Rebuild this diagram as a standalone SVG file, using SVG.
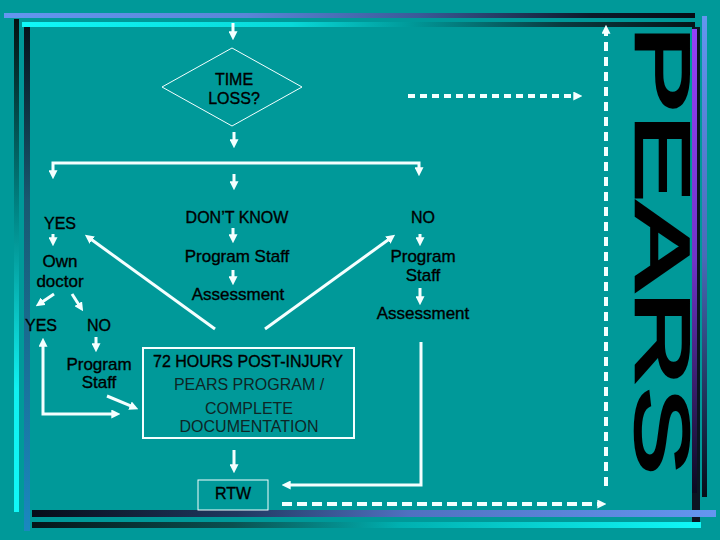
<svg xmlns="http://www.w3.org/2000/svg" width="720" height="540" viewBox="0 0 720 540">
<defs>
<style>
.t{font-family:"Liberation Sans",Arial,sans-serif;font-size:17px;fill:#000;text-anchor:middle;stroke:#000;stroke-width:0.35}
.c{font-size:16px}
.l{fill:#0e2626;stroke:none}
.ln{fill:none;stroke:#f4ffff;stroke-width:3}
.ds{fill:none;stroke:#f4ffff;stroke-width:4}
.box{fill:none;stroke:#f4ffff}
</style>
<marker id="ah" viewBox="0 0 10 10" refX="3" refY="5" markerWidth="9" markerHeight="9" markerUnits="userSpaceOnUse" orient="auto-start-reverse"><path d="M0,0 L10,5 L0,10 z" fill="#f4ffff"/></marker>
<linearGradient id="gTop1" x1="0" y1="0" x2="1" y2="0"><stop offset="0" stop-color="#6496f0"/><stop offset="0.35" stop-color="#5a86d8"/><stop offset="0.6" stop-color="#3a5a98"/><stop offset="0.85" stop-color="#0c1a2a"/><stop offset="1" stop-color="#060c14"/></linearGradient>
<linearGradient id="gTop2" x1="0" y1="0" x2="1" y2="0"><stop offset="0" stop-color="#10f8f8"/><stop offset="0.4" stop-color="#08d8d8"/><stop offset="0.58" stop-color="#009898"/><stop offset="0.8" stop-color="#0a3a40"/><stop offset="1" stop-color="#061418"/></linearGradient>
<linearGradient id="gBot1" x1="0" y1="0" x2="1" y2="0"><stop offset="0" stop-color="#060c18"/><stop offset="0.3" stop-color="#203860"/><stop offset="0.55" stop-color="#5070c0"/><stop offset="1" stop-color="#6496f0"/></linearGradient>
<linearGradient id="gBot2" x1="0" y1="0" x2="1" y2="0"><stop offset="0" stop-color="#061418"/><stop offset="0.3" stop-color="#0a5050"/><stop offset="0.55" stop-color="#00b0b0"/><stop offset="1" stop-color="#10f8f8"/></linearGradient>
<linearGradient id="gL1" x1="0" y1="0" x2="0" y2="1"><stop offset="0" stop-color="#061010"/><stop offset="0.4" stop-color="#008888"/><stop offset="0.75" stop-color="#10f0f0"/><stop offset="1" stop-color="#10f8f8"/></linearGradient>
<linearGradient id="gL2" x1="0" y1="0" x2="0" y2="1"><stop offset="0" stop-color="#061018"/><stop offset="0.35" stop-color="#185870"/><stop offset="1" stop-color="#1a88c0"/></linearGradient>
<linearGradient id="gR1" x1="0" y1="0" x2="0" y2="1"><stop offset="0" stop-color="#9440f8"/><stop offset="0.5" stop-color="#7034c8"/><stop offset="0.85" stop-color="#281850"/><stop offset="1" stop-color="#0a0a20"/></linearGradient>
<linearGradient id="gR2" x1="0" y1="0" x2="0" y2="1"><stop offset="0" stop-color="#6496f0"/><stop offset="0.5" stop-color="#4a6ab8"/><stop offset="0.85" stop-color="#182848"/><stop offset="1" stop-color="#060c18"/></linearGradient>
</defs>
<rect width="720" height="540" fill="#009999"/>
<g id="frame">
<rect x="14" y="19" width="5" height="493" fill="url(#gL1)"/>
<rect x="24" y="22" width="6" height="509" fill="url(#gL2)"/>
<rect x="4" y="13" width="691" height="5" fill="url(#gTop1)"/>
<rect x="22" y="22" width="673" height="5" fill="url(#gTop2)"/>
<rect x="692" y="27" width="8" height="496" fill="#0c1422"/>
<rect x="692" y="29" width="5" height="464" fill="url(#gR1)"/>
<rect x="702" y="16" width="5" height="481" fill="url(#gR2)"/>
<rect x="32" y="510" width="684" height="7" fill="url(#gBot1)"/>
<rect x="32" y="522" width="669" height="6" fill="url(#gBot2)"/>
</g>
<g id="pears"><text class="t" style="text-anchor:start;font-size:76px;stroke-width:2.6" transform="translate(636,0) rotate(90)" x="25" y="0" textLength="450" lengthAdjust="spacingAndGlyphs">PEARS</text></g>
<g id="connectors">
<line class="ln" x1="233" y1="23" x2="233" y2="34" marker-end="url(#ah)"/>
<line class="ln" x1="234" y1="132" x2="234" y2="142" marker-end="url(#ah)"/>
<path class="ln" d="M53,173 L53,163 L419,163 L419,170" marker-start="url(#ah)" marker-end="url(#ah)"/>
<line class="ln" x1="234" y1="174" x2="234" y2="184" marker-end="url(#ah)"/>
<line class="ln" x1="233" y1="228" x2="233" y2="237" marker-end="url(#ah)"/>
<line class="ln" x1="233" y1="270" x2="233" y2="279" marker-end="url(#ah)"/>
<line class="ln" x1="53" y1="234" x2="53" y2="240" marker-end="url(#ah)"/>
<line class="ln" x1="54" y1="294" x2="41" y2="302.7" marker-end="url(#ah)"/>
<line class="ln" x1="72" y1="294" x2="79.7" y2="306" marker-end="url(#ah)"/>
<line class="ln" x1="96" y1="337" x2="96" y2="346" marker-end="url(#ah)"/>
<line class="ln" x1="107" y1="396" x2="132.5" y2="406.7" marker-end="url(#ah)"/>
<path class="ln" d="M114,414 L43,414 L43,344" marker-start="url(#ah)" marker-end="url(#ah)"/>
<line class="ln" x1="215" y1="329" x2="90" y2="238.5" marker-end="url(#ah)"/>
<line class="ln" x1="265" y1="329" x2="390" y2="238.5" marker-end="url(#ah)"/>
<line class="ln" x1="420" y1="234" x2="420" y2="240" marker-end="url(#ah)"/>
<line class="ln" x1="420" y1="288" x2="420" y2="299" marker-end="url(#ah)"/>
<line class="ln" x1="234" y1="450" x2="234" y2="467" marker-end="url(#ah)"/>
<path class="ln" d="M421,342 L421,485 L288,485" marker-end="url(#ah)"/>
<path class="ds" d="M408,96 L576,96" stroke-dasharray="7 5" marker-end="url(#ah)"/>
<path class="ds" d="M282,504 L600,504" stroke-dasharray="10 5" marker-end="url(#ah)"/>
<path class="ds" d="M606,486 L606,31" stroke-dasharray="9 6" marker-end="url(#ah)"/>
</g>
<g id="decision"><polygon points="232,48 302,87 232,126 162,87" fill="none" stroke="#f4ffff" stroke-width="1"/><text class="t c" x="234" y="85">TIME</text><text class="t c" x="234" y="104">LOSS?</text></g>
<g id="yes-top"><text class="t c" x="60" y="229">YES</text></g>
<g id="dontknow"><text class="t c" x="237" y="223">DON’T KNOW</text></g>
<g id="no-top"><text class="t c" x="423" y="223">NO</text></g>
<g id="staff-mid"><text class="t" x="237" y="262">Program Staff</text></g>
<g id="assess-mid"><text class="t" x="238" y="300">Assessment</text></g>
<g id="own-doctor"><text class="t" x="60" y="267">Own</text><text class="t" x="60" y="287">doctor</text></g>
<g id="yes-low"><text class="t c" x="41" y="331">YES</text></g>
<g id="no-low"><text class="t c" x="99" y="331">NO</text></g>
<g id="staff-left"><text class="t" x="99" y="370">Program</text><text class="t" x="99" y="388">Staff</text></g>
<g id="staff-right"><text class="t" x="423" y="262">Program</text><text class="t" x="423" y="281">Staff</text></g>
<g id="assess-right"><text class="t" x="423" y="319">Assessment</text></g>
<g id="post-injury"><rect class="box" x="143" y="348" width="211" height="90" stroke-width="2"/>
<text class="t c" x="248" y="367">72 HOURS POST-INJURY</text>
<text class="t c l" x="249" y="390">PEARS PROGRAM /</text>
<text class="t c l" x="249" y="414">COMPLETE</text>
<text class="t c l" x="249" y="432">DOCUMENTATION</text></g>
<g id="rtw"><rect class="box" x="198" y="480" width="70" height="30" stroke-width="1"/><text class="t c" x="233" y="499">RTW</text></g>
</svg>
